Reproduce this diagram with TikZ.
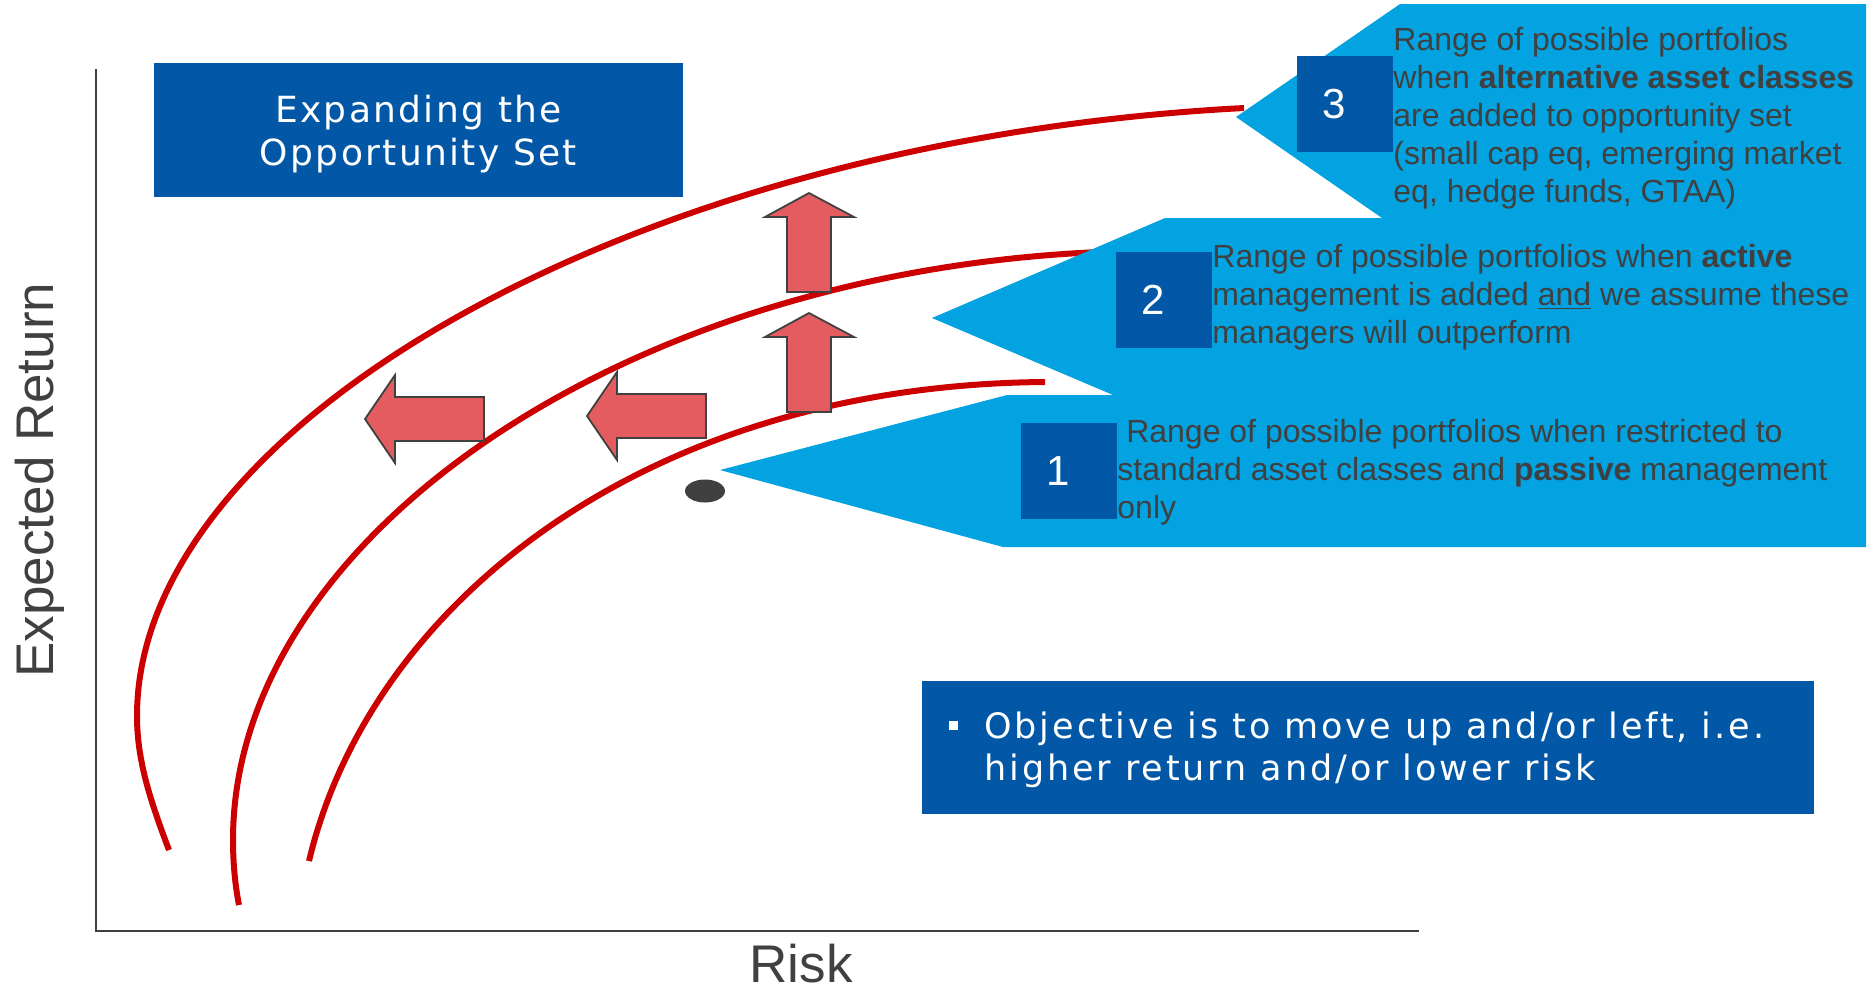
\documentclass[tikz,border=0pt]{standalone}
\usepackage{fontspec}
\setmainfont{Liberation Sans}
\newfontfamily\widefont[LetterSpace=6.5]{DejaVu Sans}
\newfontfamily\objfont[LetterSpace=8.3]{DejaVu Sans}
\usepackage{xcolor}
\usetikzlibrary{shapes.geometric,positioning,calc}

\definecolor{darkblue}{RGB}{2,88,166}
\definecolor{lightblue}{RGB}{2,163,224}
\definecolor{textgrey}{RGB}{64,64,64}
\definecolor{frontred}{RGB}{204,0,0}
\definecolor{arrowred}{RGB}{228,92,96}

\begin{document}
\begin{tikzpicture}[x=0.5pt, y=-0.5pt,
        % Styles
        frontier/.style={
            draw=frontred,
            line width=3pt
        },
        callout/.style={
            fill=lightblue
        },
        numbox/.style={
            rectangle,
            fill=darkblue,
            minimum width=48pt,
            minimum height=48pt,
            inner sep=0pt,
            text=white,
            font=\fontsize{21}{25}\selectfont
        },
        numlabel/.style={
            text=white,
            inner sep=0pt,
            font=\fontsize{21}{25}\selectfont
        },
        calltext/.style={
            anchor=north west,
            inner sep=0pt,
            align=left,
            text=textgrey,
            font=\fontsize{16}{19}\selectfont
        },
        bluebox/.style={
            rectangle,
            fill=darkblue,
            text=white,
            inner sep=0pt
        },
        movearrow/.style={
            draw=textgrey,
            line width=0.9pt,
            fill=arrowred
        },
        axisline/.style={
            draw=textgrey,
            line width=0.8pt
        },
        axislabel/.style={
            text=textgrey,
            inner sep=0pt,
            font=\fontsize{26.5}{30}\selectfont
        }
    ]

    \useasboundingbox (0,0) rectangle (1873,987);

    % Axes
    \draw[axisline] (96,69) -- (96,931) -- (1419,931);
    \node[axislabel, anchor=base] (risk) at (801,982) {Risk};
    \node[axislabel, rotate=90, anchor=base] (ret) at (53,480) {Expected Return};

    % Frontiers
    \draw[frontier] (169,850) .. controls (150,800) and (137,760) .. (137,716)
        .. controls (137,426) and (630,140) .. (1244,108);
    \draw[frontier] (239,905) .. controls (235,885) and (233,862) .. (233,840)
        .. controls (233,540) and (620,272) .. (1100,252);
    \draw[frontier] (309,861) .. controls (369,608) and (640,385) .. (1045,382);

    % Callouts
    \fill[callout] (1236,117) -- (1400,4) -- (1866,4) -- (1866,218) -- (1382,218) -- cycle;
    \fill[callout] (932,318) -- (1165,218) -- (1866,218) -- (1866,395) -- (1113,395) -- cycle;
    \fill[callout] (720,470) -- (1007,395) -- (1866,395) -- (1866,547) -- (1003,547) -- cycle;

    \node[numbox] (n3) at (1345,104) {};
    \node[numlabel] at ([xshift=-5.5pt]n3.center) {3};
    \node[calltext] (t3) at (1393,27) {Range of possible portfolios\\
        when \textbf{alternative asset classes}\\
        are added to opportunity set\\
        (small cap eq, emerging market\\
        eq, hedge funds, GTAA)};

    \node[numbox] (n2) at (1164,300) {};
    \node[numlabel] at ([xshift=-5.5pt]n2.center) {2};
    \node[calltext] (t2) at (1212,244) {Range of possible portfolios when \textbf{active}\\
        management is added \underline{and} we assume these\\
        managers will outperform};

    \node[numbox] (n1) at (1069,471) {};
    \node[numlabel] at ([xshift=-5.5pt]n1.center) {1};
    \node[calltext] (t1) at (1117,419) {\ Range of possible portfolios when restricted to\\
        standard asset classes and \textbf{passive} management\\
        only};

    % Title box
    \node[bluebox, minimum width=264.5pt, minimum height=67pt] (title) at (418.5,130) {};
    \node[align=center, text=white, inner sep=0pt,
          font=\widefont\fontsize{18}{21.5}\selectfont] (titletext) at ([yshift=-2pt]title.center) {Expanding the\\Opportunity Set};

    % Objective box
    \node[bluebox, minimum width=446pt, minimum height=66.5pt] (obj) at (1368,747.5) {};
    \node[fill=white, minimum size=4.5pt, inner sep=0pt] (bullet) at (953,725) {};
    \node[anchor=north west, inner sep=0pt, align=left, text=white,
          font=\objfont\fontsize{17.5}{21}\selectfont] (objtext) at (984,711) {Objective is to move up and/or left, i.e.\\
        higher return and/or lower risk};

    % Movement arrows
    \draw[movearrow] (809,193) -- (854,217) -- (831,217) -- (831,292) -- (787,292) -- (787,217) -- (765,217) -- cycle;
    \draw[movearrow] (809,313) -- (854,337) -- (831,337) -- (831,412) -- (787,412) -- (787,337) -- (765,337) -- cycle;
    \draw[movearrow] (365,419) -- (395,375) -- (395,397) -- (484,397) -- (484,441) -- (395,441) -- (395,463) -- cycle;
    \draw[movearrow] (587,416) -- (617,372) -- (617,394) -- (706,394) -- (706,438) -- (617,438) -- (617,460) -- cycle;

    % Current portfolio
    \node[ellipse, fill=textgrey, minimum width=20pt, minimum height=11.5pt, inner sep=0pt] (port) at (705,491) {};

\end{tikzpicture}
\end{document}
